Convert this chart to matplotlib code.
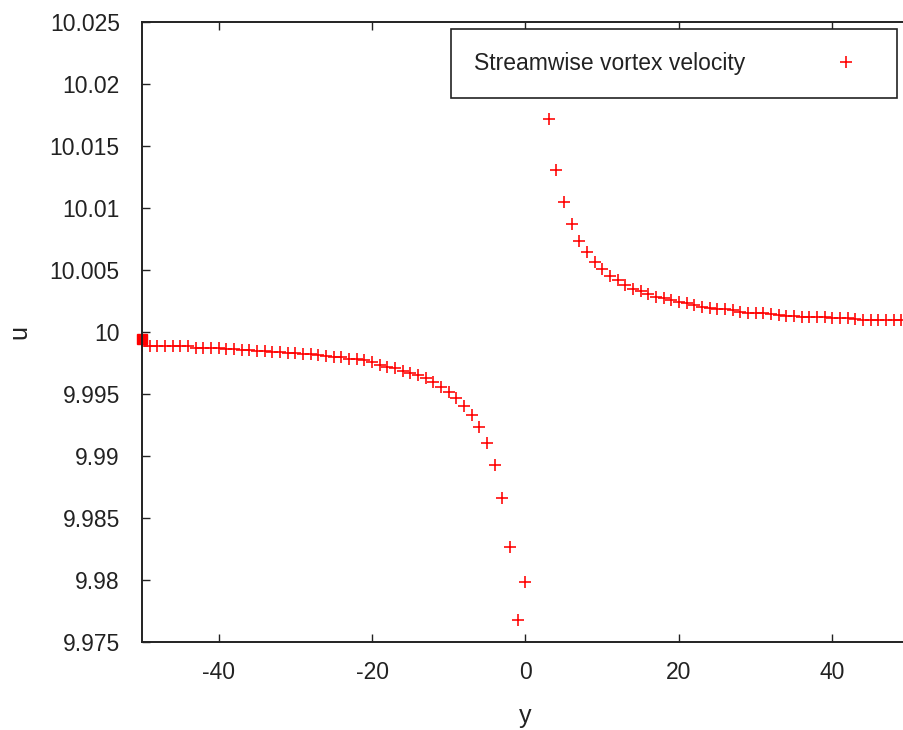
import matplotlib
matplotlib.use("Agg")
import matplotlib.pyplot as plt
import numpy as np

plt.rcParams['font.family'] = ['Liberation Sans', 'DejaVu Sans']

# streamwise velocity sampled at integer spanwise positions
y = np.arange(-50, 51)
u = [
    9.99888, 9.99888, 9.99887, 9.99887, 9.99886, 9.99885, 9.99884,   # -50 .. -44
    9.99872, 9.99870, 9.99869, 9.99868,                               # -43 .. -40
    9.99863, 9.99860, 9.99857, 9.99855,                               # -39 .. -36
    9.99848, 9.99845, 9.99842, 9.99839,                               # -35 .. -32
    9.99832, 9.99828, 9.99824, 9.99820,                               # -31 .. -28
    9.99812, 9.99807, 9.99801, 9.99796,                               # -27 .. -24
    9.99786, 9.99780, 9.99771, 9.99755,                               # -23 .. -20
    9.99734, 9.99720, 9.99707, 9.99687, 9.99672,                      # -19 .. -15
    9.99653, 9.99627, 9.99594, 9.99559, 9.99519,                      # -14 .. -10
    9.99465, 9.99403, 9.99331, 9.99236, 9.99102,                      # -9 .. -5
    9.98927, 9.98664, 9.98264, 9.97677, 9.97986,                      # -4 .. 0
    10.0200, 10.0225, 10.01715, 10.01309, 10.01046,                   # 1 .. 5
    10.00871, 10.00737, 10.00645, 10.00567, 10.00511,                 # 6 .. 10
    10.00454, 10.00417, 10.00382, 10.00347, 10.00331,                 # 11 .. 15
    10.00304, 10.00285, 10.00272, 10.00258, 10.00244,                 # 16 .. 20
    10.00231, 10.00218, 10.00204, 10.00191, 10.00188,                 # 21 .. 25
    10.00183, 10.00177, 10.00164, 10.00156, 10.00154,                 # 26 .. 30
    10.00151, 10.00149, 10.00137, 10.00129, 10.00128,                 # 31 .. 35
    10.00123, 10.00122, 10.00121, 10.00118, 10.00110,                 # 36 .. 40
    10.00110, 10.00109, 10.00102, 10.00097, 10.00097,                 # 41 .. 45
    10.00097, 10.00097, 10.00097, 10.00097, 10.00095,                 # 46 .. 50
]
# boundary sample at the left edge
y_edge = [-50]
u_edge = [9.99944]

xticks = [-40, -20, 0, 20, 40]
yticks = [9.975, 9.98, 9.985, 9.99, 9.995, 10.0, 10.005, 10.01, 10.015, 10.02, 10.025]
ytick_labels = ['9.975', '9.98', '9.985', '9.99', '9.995', '10',
                '10.005', '10.01', '10.015', '10.02', '10.025']

fig = plt.figure(figsize=(9.04, 7.30), dpi=100)
ax = fig.add_axes([142 / 904, 88 / 730, 767 / 904, 620 / 730])

ax.plot(y, u, linestyle='none', marker='+', color='red', markersize=8,
        markeredgewidth=1.15, label='Streamwise vortex velocity', clip_on=True)
ax.plot(y_edge, u_edge, linestyle='none', marker='s', color='red',
        markersize=7, clip_on=False)

ax.set_xlim(-50, 50)
ax.set_ylim(9.975, 10.025)
ax.set_xticks(xticks)
ax.set_xticklabels([str(t) for t in xticks])
ax.set_yticks(yticks)
ax.set_yticklabels(ytick_labels)

ax.tick_params(direction='in', length=6, width=1.0, colors='#222222',
               labelsize=16.5, top=True, right=False)
ax.tick_params(axis='y', pad=16)
ax.tick_params(axis='x', pad=14)
for side in ax.spines.values():
    side.set_linewidth(1.4)
    side.set_color('#222222')

ax.set_xlabel('y', fontsize=18, color='#222222', labelpad=14)
ax.set_ylabel('u', fontsize=18, color='#222222', labelpad=13)

leg = ax.legend(loc='upper right', bbox_to_anchor=(897 / 904, 1 - 29 / 730),
                bbox_transform=fig.transFigure, markerfirst=False,
                fontsize=16.5, frameon=True, fancybox=False, framealpha=1,
                edgecolor='#222222', borderpad=1.0, handlelength=2.44,
                handletextpad=3.18, borderaxespad=0)
leg.get_frame().set_linewidth(1.2)
leg.set_zorder(5)
for t in leg.get_texts():
    t.set_color('#222222')

fig.savefig('out.png', dpi=100)
